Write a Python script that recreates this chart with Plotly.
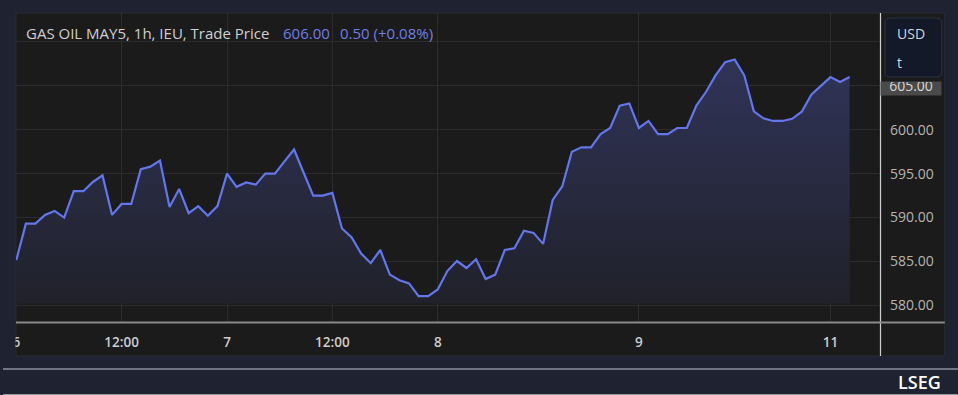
import plotly.graph_objects as go

# ---------------- data ----------------
prices = [
    585.15, 589.3, 589.3, 590.3, 590.75, 590.0, 593.0, 593.0, 594.05, 594.8,
    590.3, 591.55, 591.55, 595.5, 595.8, 596.5, 591.2, 593.25, 590.5, 591.3,
    590.2, 591.3, 595.0, 593.5, 594.0, 593.75, 595.0, 595.0, 596.4, 597.75,
    595.1, 592.5, 592.5, 592.8, 588.75, 587.75, 585.9, 584.8, 586.3, 583.5,
    582.85, 582.5, 581.05, 581.05, 581.8, 583.9, 585.05, 584.25, 585.25, 583.0,
    583.5, 586.3, 586.5, 588.5, 588.25, 587.0, 592.0, 593.55, 597.5, 598.0,
    598.0, 599.5, 600.2, 602.75, 603.0, 600.2, 601.0, 599.5, 599.5, 600.2,
    600.2, 602.75, 604.3, 606.2, 607.7, 608.0, 606.2, 602.1, 601.3, 601.0,
    601.0, 601.25, 602.05, 604.0, 605.0, 606.0, 605.45, 606.0,
]
bar_index = list(range(len(prices)))          # hourly bars (trading hours only)
fill_base = [580.2] * len(prices)

tick_bars = [0, 11, 22, 33, 44, 65, 85]
tick_labels = ["6", "12:00", "7", "12:00", "8", "9", "11"]

y_ticks = [580, 585, 590, 595, 600, 605, 610]
y_tick_labels = ["580.00", "585.00", "590.00", "595.00", "600.00", "", ""]
price_marker = 605
price_marker_text = "605.00"

title_text = "GAS OIL MAY5, 1h, IEU, Trade Price"
last_text = "606.00"
change_text = "0.50 (+0.08%)"

# ---------------- style ----------------
PAGE = "#1f2331"
PANEL = "#1b1b1c"
GRID = "#2d2d2f"
LINE = "#6476ec"
FONT = "Open Sans"

W, H = 958, 395
L, R, T, B = 13, 880, 13, 322      # plot area in pixels


def xp(px):
    return (px - L) / (R - L)


def yp(py):
    return (B - py) / (B - T)


fig = go.Figure()
fig.add_trace(go.Scatter(x=bar_index, y=fill_base, mode="lines",
                         line=dict(width=0), hoverinfo="skip", showlegend=False))
fig.add_trace(go.Scatter(
    x=bar_index, y=prices, mode="lines", fill="tonexty",
    line=dict(color=LINE, width=2.2),
    fillgradient=dict(type="vertical", start=580.2, stop=608.5,
                      colorscale=[[0, "rgba(32,33,42,1)"], [1, "rgba(48,52,88,1)"]]),
    showlegend=False,
))

shapes = [
    # panel background
    dict(type="rect", xref="paper", yref="paper", x0=xp(13), x1=xp(945), y0=yp(356), y1=yp(13),
         fillcolor=PANEL, line=dict(color="#2a2d36", width=1), layer="below"),
    # separator lines
    dict(type="line", xref="paper", yref="paper", x0=xp(880.5), x1=xp(880.5), y0=yp(356), y1=yp(13),
         line=dict(color="#cfcfcf", width=1.2), layer="above"),
    dict(type="line", xref="paper", yref="paper", x0=xp(13), x1=xp(945), y0=yp(322.5), y1=yp(322.5),
         line=dict(color="#8a8a8a", width=2), layer="above"),
    # mask clipping first date label
    dict(type="rect", xref="paper", yref="paper", x0=xp(0), x1=xp(12.5), y0=yp(356), y1=yp(323.5),
         fillcolor=PAGE, line=dict(width=0), layer="above"),
    # footer lines
    dict(type="line", xref="paper", yref="paper", x0=xp(0), x1=xp(958), y0=yp(369), y1=yp(369),
         line=dict(color="#8e929c", width=1.5), layer="above"),
    dict(type="line", xref="paper", yref="paper", x0=xp(0), x1=xp(958), y0=yp(394.5), y1=yp(394.5),
         line=dict(color="#9a9a9a", width=1), layer="above"),
]

# rounded USD/t box
bx0, bx1, by0, by1, rr = 885, 942, 18, 77, 5
path = (f"M {xp(bx0 + rr)} {yp(by0)} L {xp(bx1 - rr)} {yp(by0)} "
        f"Q {xp(bx1)} {yp(by0)} {xp(bx1)} {yp(by0 + rr)} L {xp(bx1)} {yp(by1 - rr)} "
        f"Q {xp(bx1)} {yp(by1)} {xp(bx1 - rr)} {yp(by1)} L {xp(bx0 + rr)} {yp(by1)} "
        f"Q {xp(bx0)} {yp(by1)} {xp(bx0)} {yp(by1 - rr)} L {xp(bx0)} {yp(by0 + rr)} "
        f"Q {xp(bx0)} {yp(by0)} {xp(bx0 + rr)} {yp(by0)} Z")
shapes.append(dict(type="path", xref="paper", yref="paper", path=path,
                   fillcolor="#131928", line=dict(color="#2b3242", width=1), layer="above"))

annotations = [
    dict(text=title_text, x=xp(21), y=yp(33), xref="paper", yref="paper", xanchor="left",
         yanchor="middle", showarrow=False, font=dict(family=FONT, size=15, color="#cfcfcf")),
    dict(text=last_text, x=xp(279), y=yp(33), xref="paper", yref="paper", xanchor="left",
         yanchor="middle", showarrow=False, font=dict(family=FONT, size=15, color="#6f7ee6")),
    dict(text=change_text, x=xp(336), y=yp(33), xref="paper", yref="paper", xanchor="left",
         yanchor="middle", showarrow=False, font=dict(family=FONT, size=15, color="#6f7ee6")),
    dict(text="USD", x=xp(895), y=yp(33), xref="paper", yref="paper", xanchor="left",
         yanchor="middle", showarrow=False, font=dict(family=FONT, size=14, color="#d3d6de")),
    dict(text="t", x=xp(895), y=yp(63), xref="paper", yref="paper", xanchor="left",
         yanchor="middle", showarrow=False, font=dict(family=FONT, size=14, color="#d3d6de")),
    dict(text=price_marker_text, x=xp(880.5), y=price_marker, xref="paper", yref="y",
         xanchor="left", yanchor="middle", yshift=-2.5, showarrow=False, width=60, height=13,
         valign="bottom", bgcolor="#4a4a4a", borderpad=0,
         font=dict(family=FONT, size=14, color="#d8d8d8")),
    dict(text="LSEG", x=xp(943), y=yp(382), xref="paper", yref="paper", xanchor="right",
         yanchor="middle", showarrow=False,
         font=dict(family=FONT, size=18, color="#ffffff", weight=600)),
]

fig.update_layout(
    width=W, height=H,
    margin=dict(l=L, r=W - R, t=T, b=H - B, pad=0),
    paper_bgcolor=PAGE, plot_bgcolor=PANEL,
    shapes=shapes, annotations=annotations,
    showlegend=False,
    xaxis=dict(
        range=[-0.03, 90.17], tickmode="array", tickvals=tick_bars, ticktext=tick_labels,
        showgrid=True, gridcolor=GRID, gridwidth=1, zeroline=False, showline=False,
        ticks="", ticklabelstandoff=10,
        tickfont=dict(family=FONT, size=13.5, color="#cdcdcd", weight=600),
        fixedrange=True,
    ),
    yaxis=dict(
        range=[578.1, 613.3], side="right", tickmode="array", tickvals=y_ticks,
        ticktext=y_tick_labels, showgrid=True, gridcolor=GRID, gridwidth=1, zeroline=False,
        showline=False, ticks="", ticklabelstandoff=9,
        tickfont=dict(family=FONT, size=14, color="#b5b5b5"),
        fixedrange=True,
    ),
)

fig.write_html(
    "out.html",
    config={"displayModeBar": False},
    post_script="document.body.style.margin='0';document.body.style.overflow='hidden';",
)
